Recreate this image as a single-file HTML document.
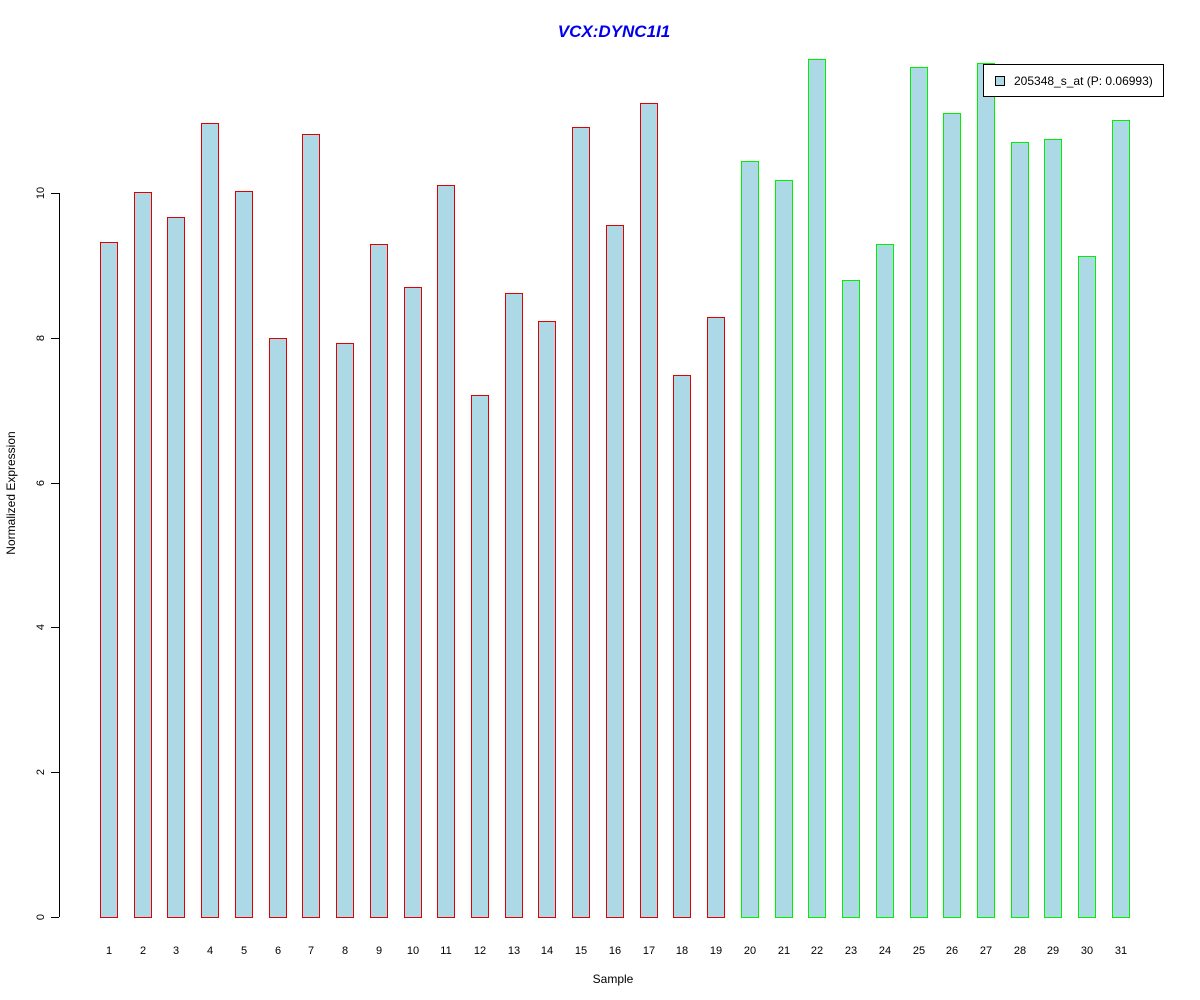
<!DOCTYPE html>
<html><head><meta charset="utf-8"><style>body{margin:0;background:#fff}svg{display:block}text{font-family:"Liberation Sans",Arial,sans-serif}</style></head>
<body>
<svg id="s" width="1200" height="1000" xmlns="http://www.w3.org/2000/svg">
<rect width="1200" height="1000" fill="#fff"/>
<text x="614" y="37" text-anchor="middle" font-size="17" font-weight="bold" font-style="italic" fill="#0000ee">VCX:DYNC1I1</text>
<rect x="59" y="193" width="1" height="724" fill="#000"/>
<text x="613" y="983" text-anchor="middle" font-size="12">Sample</text>
<text transform="translate(15,493) rotate(-90)" text-anchor="middle" font-size="12">Normalized Expression</text>
<g id="g" shape-rendering="crispEdges"></g>
<rect x="983" y="64" width="181" height="33" fill="#000"/>
<rect x="984" y="65" width="179" height="31" fill="#fff"/>
<rect x="995" y="76" width="10" height="10" fill="#000"/>
<rect x="996" y="77" width="8" height="8" fill="#add8e6"/>
<text x="1014" y="85" font-size="12">205348_s_at (P: 0.06993)</text>
</svg>
<script>
var tops=[242,192,217,123,191,338,134,343,244,287,185,395,293,321,127,225,103,375,317,161,180,59,280,244,67,113,63,142,139,256,120];
var h='';
for(var i=0;i<31;i++){var x=Math.round(100+i*33.73);var c=i<19?'#e00000':'#00ee00';
h+='<rect x="'+x+'" y="'+tops[i]+'" width="18" height="'+(918-tops[i])+'" fill="'+c+'"/>';
h+='<rect x="'+(x+1)+'" y="'+(tops[i]+1)+'" width="16" height="'+(916-tops[i])+'" fill="#add8e6"/>';
h+='<text x="'+(x+9)+'" y="954" text-anchor="middle" font-size="11">'+(i+1)+'</text>';}
for(var v=0;v<=10;v+=2){var y=Math.round(917-v*72.4);h+='<rect x="51" y="'+y+'" width="8" height="1" fill="#000"/>';
h+='<text transform="translate(44,'+y+') rotate(-90)" text-anchor="middle" font-size="11">'+v+'</text>';}
document.getElementById('g').innerHTML=h;
</script>
</body></html>
